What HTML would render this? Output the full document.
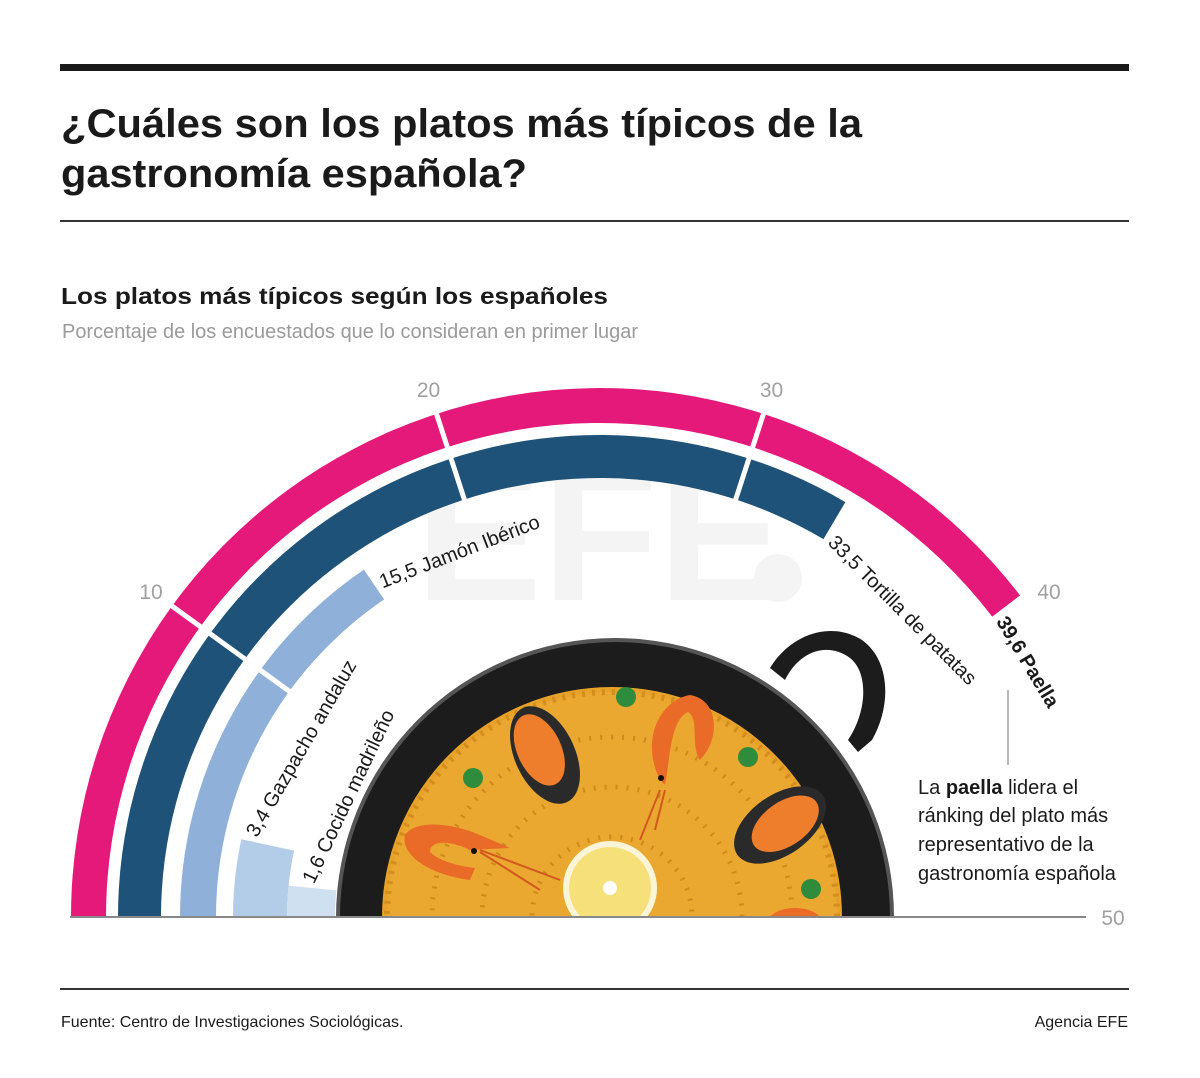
<!DOCTYPE html>
<html><head><meta charset="utf-8">
<style>
html,body{margin:0;padding:0;background:#fff;}
body{width:1200px;height:1073px;overflow:hidden;font-family:"Liberation Sans",sans-serif;}
svg text{font-family:"Liberation Sans",sans-serif;}
</style></head>
<body>
<svg id="chart" width="1200" height="1073" viewBox="0 0 1200 1073" xmlns="http://www.w3.org/2000/svg">
  <rect x="60" y="64" width="1069" height="7" fill="#1a1a1a"/>
  <text x="61" y="137" font-size="40" font-weight="bold" fill="#1a1a1a" textLength="801" lengthAdjust="spacingAndGlyphs">¿Cuáles son los platos más típicos de la</text>
  <text x="61" y="187" font-size="40" font-weight="bold" fill="#1a1a1a" textLength="466" lengthAdjust="spacingAndGlyphs">gastronomía española?</text>
  <rect x="60" y="220" width="1069" height="2" fill="#333"/>
  <text x="61" y="304" font-size="23" font-weight="bold" fill="#1a1a1a" textLength="547" lengthAdjust="spacingAndGlyphs">Los platos más típicos según los españoles</text>
  <text x="62" y="338" font-size="20" fill="#9a9a9a" textLength="576" lengthAdjust="spacingAndGlyphs">Porcentaje de los encuestados que lo consideran en primer lugar</text>
  <text x="600" y="600" font-size="190" font-weight="bold" fill="#f4f4f4" text-anchor="middle">EFE</text>
  <circle cx="778" cy="578" r="24" fill="#f4f4f4"/>
  <g id="bars"></g>
  <g id="paella"></g>
  <g id="labels"></g>
  <line x1="70" y1="917" x2="1086" y2="917" stroke="#888" stroke-width="2"/>
  <line x1="1008" y1="690" x2="1008" y2="765" stroke="#888" stroke-width="1.2"/>
  <text font-size="20" fill="#1a1a1a">
    <tspan x="918" y="794">La <tspan font-weight="bold">paella</tspan> lidera el</tspan>
    <tspan x="918" y="822">ránking del plato más</tspan>
    <tspan x="918" y="851">representativo de la</tspan>
    <tspan x="918" y="880">gastronomía española</tspan>
  </text>
  <rect x="60" y="988" width="1069" height="2" fill="#333"/>
  <text x="61" y="1027" font-size="16" fill="#1a1a1a">Fuente: Centro de Investigaciones Sociológicas.</text>
  <text x="1128" y="1027" font-size="16" fill="#1a1a1a" text-anchor="end">Agencia EFE</text>
</svg>
<script>
const dishes = ["Paella", "Tortilla de patatas", "Jamón Ibérico", "Gazpacho andaluz", "Cocido madrileño"];
const values = [39.6, 33.5, 15.5, 3.4, 1.6];
const valueLabels = ["39,6", "33,5", "15,5", "3,4", "1,6"];
const tickValues = [10, 20, 30, 40, 50];
const tickLabels = ["10", "20", "30", "40", "50"];
const separatorValues = [10, 20, 30];

const NS = "http://www.w3.org/2000/svg";
const CX = 600, CY = 917, MAXV = 50;
const rings = [[494, 529], [439, 482], [384, 420], [313, 367], [265, 313]];
const colors = ["#e5197a", "#1f5278", "#8fb0d8", "#b3cde8", "#cfe0f1"];
const textR = [494, 437, 394, 352, 288];
const textLen = [100, 212, 170, 210, 190];

function ang(v){ return Math.PI - v / MAXV * Math.PI; }
function pt(v, r){ const a = ang(v); return [CX + r * Math.cos(a), CY - r * Math.sin(a)]; }
function mk(tag, attrs, parent){ const e = document.createElementNS(NS, tag); for (const k in attrs) e.setAttribute(k, attrs[k]); parent.appendChild(e); return e; }

const bars = document.getElementById("bars");
values.forEach((v, i) => {
  const [r0, r1] = rings[i];
  const a = pt(0, r1), b = pt(v, r1), c = pt(v, r0), d = pt(0, r0);
  const dstr = `M${a[0]},${a[1]} A${r1},${r1} 0 0 1 ${b[0]},${b[1]} L${c[0]},${c[1]} A${r0},${r0} 0 0 0 ${d[0]},${d[1]} Z`;
  const p = mk("path", {d: dstr, fill: colors[i]}, bars);
  
  
});
separatorValues.forEach(s => {
  const rMin = s === 10 ? 378 : 432;
  const a = pt(s, rMin), b = pt(s, 536);
  const l = mk("line", {x1: a[0], y1: a[1], x2: b[0], y2: b[1], stroke: "#fff", "stroke-width": 5}, bars);
  
  
});

const labels = document.getElementById("labels");
tickValues.forEach((t, i) => {
  let p = pt(t, 555);
  if (t === MAXV) p = [1113, 917];
  const tx = mk("text", {x: p[0], y: p[1] + 8, "font-size": 21, fill: "#a0a0a0", "text-anchor": "middle"}, labels);
  tx.textContent = tickLabels[i];
  
  
});
values.forEach((v, i) => {
  const r = textR[i];
  const a = ang(v) - 0.012;
  const x = CX + r * Math.cos(a), y = CY - r * Math.sin(a);
  const tangentDeg = 90 - a * 180 / Math.PI;
  const extra = (textLen[i] / (2 * r)) * 180 / Math.PI;
  const rot = tangentDeg + extra;
  const t = mk("text", {x: x, y: y, "font-size": 20, fill: "#1a1a1a", transform: `rotate(${rot} ${x} ${y})`, "font-weight": i === 0 ? "bold" : "normal"}, labels);
  t.textContent = valueLabels[i] + " " + dishes[i];
  
  
});

const pg = document.getElementById("paella");
pg.innerHTML = `
<defs><clipPath id="clipTop"><rect x="0" y="0" width="1200" height="917"/></clipPath></defs>
<g clip-path="url(#clipTop)">
<path d="M770,668 C790,635 830,620 862,640 C890,660 892,705 872,740 L858,752 L848,740 C868,710 868,672 850,658 C828,642 800,650 785,680 Z" fill="#1c1c1c"/>
<circle cx="615" cy="917" r="279" fill="#555"/>
<circle cx="615" cy="917" r="275" fill="#1c1c1c"/>
<circle cx="612" cy="917" r="230" fill="#e7a22a"/>
<circle cx="612" cy="917" r="225" fill="#eaa830" stroke="#d48d1e" stroke-width="6" stroke-dasharray="3 7"/>
<circle cx="612" cy="917" r="180" fill="none" stroke="#d08a1c" stroke-width="5" stroke-dasharray="2 9"/>
<circle cx="612" cy="917" r="130" fill="none" stroke="#d08a1c" stroke-width="5" stroke-dasharray="2 9"/>
<circle cx="612" cy="917" r="80" fill="none" stroke="#d08a1c" stroke-width="5" stroke-dasharray="2 9"/>
<g transform="rotate(-25 545 755)"><ellipse cx="545" cy="755" rx="30" ry="52" fill="#2a2a2a"/><ellipse cx="542" cy="748" rx="22" ry="38" fill="#ee7d2c"/></g>
<g transform="rotate(55 780 825)"><ellipse cx="780" cy="825" rx="30" ry="52" fill="#2a2a2a"/><ellipse cx="782" cy="820" rx="22" ry="38" fill="#ee7d2c"/></g>
<path d="M660,780 C640,740 660,700 690,695 C720,700 720,740 700,760 C690,745 700,720 688,712 C670,720 670,760 665,785 Z" fill="#ea6b28"/>
<circle cx="661" cy="778" r="3" fill="#111"/>
<path d="M470,880 C430,875 400,855 405,835 C415,820 450,822 480,835 L510,848 L470,850 C450,840 430,840 430,852 C440,862 460,866 475,868 Z" fill="#ea6b28"/>
<circle cx="474" cy="851" r="3" fill="#111"/>
<path d="M660,790 L640,840 M665,790 L655,830 M480,850 L560,880 M480,852 L540,890" stroke="#d2581f" stroke-width="2"/>
<path d="M770,917 C780,905 810,905 820,917 Z" fill="#ea6b28"/>
<circle cx="626" cy="697" r="10" fill="#2f8c3c"/><circle cx="473" cy="778" r="10" fill="#2f8c3c"/>
<circle cx="748" cy="757" r="10" fill="#2f8c3c"/><circle cx="811" cy="889" r="10" fill="#2f8c3c"/>
<circle cx="610" cy="888" r="47" fill="#fbf5d8"/>
<circle cx="610" cy="888" r="41" fill="#f5e07a"/>
<circle cx="610" cy="888" r="7" fill="#fff"/>
</g>`;
</script>
</body></html>
